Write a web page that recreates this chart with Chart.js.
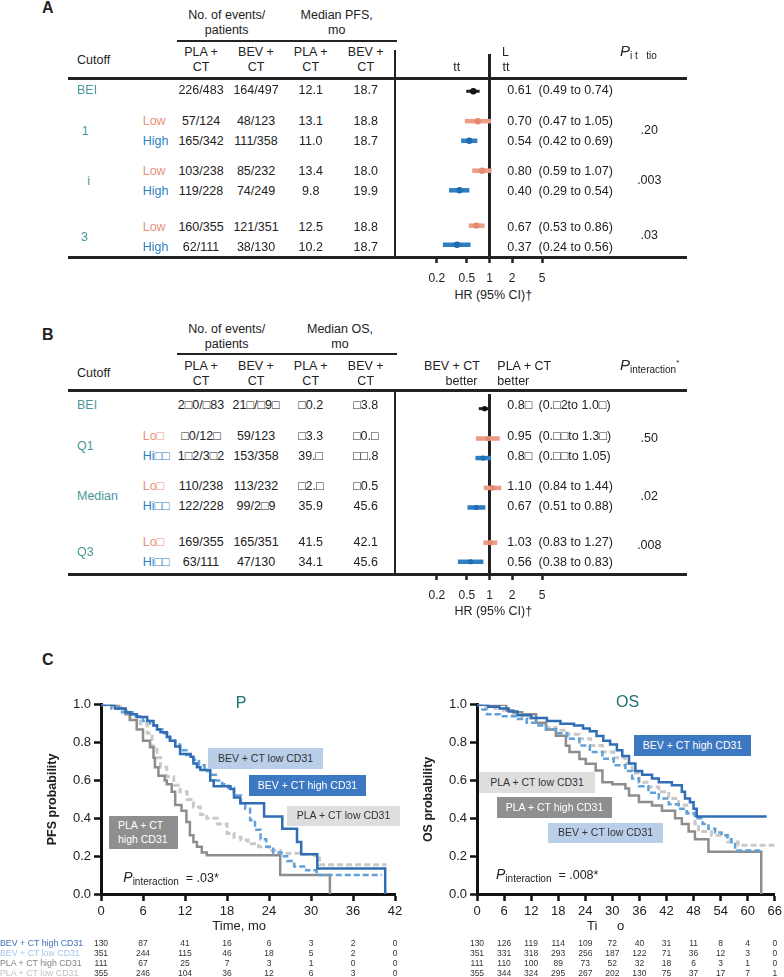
<!DOCTYPE html>
<html>
<head>
<meta charset="utf-8">
<script src="https://cdn.jsdelivr.net/npm/chart.js@4.4.1/dist/chart.umd.min.js"></script>
<style>
  html, body { margin: 0; padding: 0; background: #fff; overflow: hidden; }
  #page { position: relative; width: 784px; height: 977px; font-family: "Liberation Sans", Arial, Helvetica, sans-serif; color: #222; }
  .t { position: absolute; white-space: pre; line-height: 1; }
  .ln { position: absolute; background: #222; }
  .box { position: absolute; display: flex; align-items: center; justify-content: center; font-size: 10.5px; line-height: 1.25; white-space: pre; }
  canvas { position: absolute; }
</style>
</head>
<body>
<div id="page"></div>
<script>
// ---------- panel A : PFS by CD31 cutoff ----------
const groupsA = ['BEI', '1', 'i', '3'];
const levelsA = ['', 'Low', 'High', 'Low', 'High', 'Low', 'High'];
const pfsEventsPla = ['226/483', '57/124', '165/342', '103/238', '119/228', '160/355', '62/111'];
const pfsEventsBev = ['164/497', '48/123', '111/358', '85/232', '74/249', '121/351', '38/130'];
const pfsMedPla = ['12.1', '13.1', '11.0', '13.4', '9.8', '12.5', '10.2'];
const pfsMedBev = ['18.7', '18.8', '18.7', '18.0', '19.9', '18.8', '18.7'];
const pfsHR = [0.61, 0.70, 0.54, 0.80, 0.40, 0.67, 0.37];
const pfsLo = [0.49, 0.47, 0.42, 0.59, 0.29, 0.53, 0.24];
const pfsHi = [0.74, 1.05, 0.69, 1.07, 0.54, 0.86, 0.56];
const pfsPint = ['.20', '.003', '.03'];

// ---------- panel B : OS by CD31 cutoff ----------
const groupsB = ['BEI', 'Q1', 'Median', 'Q3'];
const levelsB = ['', 'Lo□', 'Hi□□', 'Lo□', 'Hi□□', 'Lo□', 'Hi□□'];
const osEventsPla = ['2□0/□83', '□0/12□', '1□2/3□2', '110/238', '122/228', '169/355', '63/111'];
const osEventsBev = ['21□/□9□', '59/123', '153/358', '113/232', '99/2□9', '165/351', '47/130'];
const osMedPla = ['□0.2', '□3.3', '39.□', '□2.□', '35.9', '41.5', '34.1'];
const osMedBev = ['□3.8', '□0.□', '□□.8', '□0.5', '45.6', '42.1', '45.6'];
const osHR = [0.86, 0.95, 0.82, 1.10, 0.67, 1.03, 0.56];
const osLo = [0.72, 0.66, 0.65, 0.84, 0.51, 0.83, 0.38];
const osHi = [1.02, 1.37, 1.05, 1.44, 0.88, 1.27, 0.83];
const osHRText = ['0.8□', '0.95', '0.8□', '1.10', '0.67', '1.03', '0.56'];
const osCIText = ['(0.□2to 1.0□)', '(0.□□to 1.3□)', '(0.□□to 1.05)', '(0.84 to 1.44)', '(0.51 to 0.88)', '(0.83 to 1.27)', '(0.38 to 0.83)'];
const osPint = ['.50', '.02', '.008'];

const hrTicks = [0.2, 0.5, 1, 2, 5];

// ---------- panel C : Kaplan-Meier curves (time in months, survival) ----------
const pfsBevHighT = [0, 2.0, 3.5, 4.2, 5.1, 6.6, 7.5, 8.0, 8.5, 9.4, 9.9, 10.6, 11.3, 12.8, 13.2, 13.7, 14.2, 15.6, 16.1, 18.5, 19.0, 19.9, 23.3, 25.9, 28.0, 28.6, 30.9, 40.6];
const pfsBevHighS = [1, 0.98, 0.96, 0.95, 0.935, 0.915, 0.89, 0.87, 0.855, 0.83, 0.81, 0.78, 0.74, 0.725, 0.69, 0.67, 0.655, 0.60, 0.57, 0.555, 0.51, 0.48, 0.41, 0.345, 0.275, 0.21, 0.135, 0];
const pfsBevLowT = [0, 1.5, 3.0, 4.5, 6.0, 7.0, 8.0, 8.8, 9.8, 10.6, 11.3, 12.2, 13.2, 14.0, 14.8, 15.6, 16.4, 17.3, 18.2, 19.0, 20.0, 20.6, 21.3, 22.0, 22.8, 23.6, 24.6, 25.8, 26.6, 27.6, 29.3, 30.8, 40.1];
const pfsBevLowS = [1, 0.98, 0.96, 0.94, 0.915, 0.89, 0.87, 0.85, 0.81, 0.79, 0.76, 0.735, 0.71, 0.68, 0.65, 0.63, 0.60, 0.58, 0.56, 0.52, 0.48, 0.45, 0.39, 0.34, 0.29, 0.25, 0.22, 0.20, 0.175, 0.145, 0.125, 0.10, 0.10];
const pfsPlaHighT = [0, 2.5, 3.5, 4.1, 5.1, 6.0, 7.0, 7.5, 7.7, 8.2, 9.1, 9.4, 10.1, 10.6, 11.5, 12.2, 12.7, 13.2, 13.7, 14.4, 15.1, 25.6, 32.7];
const pfsPlaHighS = [1, 0.98, 0.95, 0.92, 0.87, 0.81, 0.775, 0.72, 0.67, 0.625, 0.60, 0.58, 0.54, 0.47, 0.44, 0.38, 0.31, 0.275, 0.25, 0.22, 0.205, 0.10, 0];
const pfsPlaLowT = [0, 1.5, 2.8, 4.2, 5.6, 6.6, 7.3, 8.0, 8.5, 9.4, 10.4, 11.3, 12.3, 13.2, 14.2, 15.1, 16.6, 18.0, 19.0, 20.0, 21.0, 22.5, 24.0, 25.6, 28.5, 30.5, 31.2, 40.8];
const pfsPlaLowS = [1, 0.99, 0.97, 0.94, 0.90, 0.85, 0.78, 0.72, 0.67, 0.62, 0.575, 0.54, 0.50, 0.46, 0.42, 0.40, 0.37, 0.32, 0.30, 0.285, 0.265, 0.25, 0.23, 0.215, 0.21, 0.19, 0.155, 0.155];

const osBevHighT = [0, 2.5, 5, 7, 9, 12, 15.5, 18.5, 21.5, 23.5, 25, 26.5, 28, 29.5, 31, 32.2, 33.7, 35.1, 36.6, 38.8, 40.3, 43.2, 45.4, 46.1, 47.2, 48.0, 48.7, 64.2];
const osBevHighS = [1, 0.99, 0.98, 0.965, 0.945, 0.93, 0.915, 0.90, 0.89, 0.875, 0.86, 0.835, 0.81, 0.79, 0.76, 0.73, 0.69, 0.65, 0.63, 0.61, 0.59, 0.575, 0.54, 0.505, 0.485, 0.45, 0.41, 0.41];
const osBevLowT = [0, 1.2, 2.2, 5, 8.7, 11, 13.1, 15.3, 17.5, 20, 22.7, 25, 27.8, 30.3, 32.9, 34.4, 35.9, 38, 40.3, 42.5, 44.7, 46.5, 48.3, 50, 51.3, 52.8, 54.2, 55.5, 56.4, 57.2, 63];
const osBevLowS = [1, 0.975, 0.95, 0.94, 0.925, 0.905, 0.89, 0.87, 0.85, 0.82, 0.785, 0.75, 0.715, 0.68, 0.65, 0.61, 0.57, 0.535, 0.505, 0.475, 0.45, 0.425, 0.40, 0.37, 0.345, 0.325, 0.31, 0.29, 0.275, 0.23, 0.23];
const osPlaHighT = [0, 6.5, 8, 10, 13.1, 15.3, 17.5, 19.7, 20.5, 22.7, 24.1, 26.3, 27.8, 30, 32.9, 33.7, 35.9, 38.8, 41, 43.9, 45.4, 46.9, 48.3, 51.3, 63];
const osPlaHighS = [1, 0.97, 0.96, 0.95, 0.905, 0.87, 0.837, 0.784, 0.75, 0.714, 0.688, 0.653, 0.59, 0.58, 0.557, 0.52, 0.486, 0.468, 0.44, 0.40, 0.37, 0.33, 0.29, 0.223, 0];
const osPlaLowT = [0, 2, 4, 5.9, 8, 10, 13.1, 15.5, 17.5, 20, 22.7, 25.2, 27.8, 30.3, 32.9, 34.4, 35.9, 38, 40.3, 42.5, 44.7, 46.5, 48.3, 49.1, 52, 55.6, 57.9, 66];
const osPlaLowS = [1, 0.99, 0.98, 0.97, 0.95, 0.93, 0.90, 0.88, 0.865, 0.845, 0.82, 0.785, 0.75, 0.72, 0.69, 0.64, 0.59, 0.565, 0.54, 0.505, 0.47, 0.43, 0.37, 0.33, 0.31, 0.275, 0.258, 0.258];

// numbers at risk
const riskLabels = ['BEV + CT high CD31', 'BEV + CT low CD31', 'PLA + CT high CD31', 'PLA + CT low CD31'];
const pfsRiskTimes = [0, 6, 12, 18, 24, 30, 36, 42];
const pfsRiskBevHigh = [130, 87, 41, 16, 6, 3, 2, 0];
const pfsRiskBevLow = [351, 244, 115, 46, 18, 5, 2, 0];
const pfsRiskPlaHigh = [111, 67, 25, 7, 3, 1, 0, 0];
const pfsRiskPlaLow = [355, 246, 104, 36, 12, 6, 3, 0];
const osRiskTimes = [0, 6, 12, 18, 24, 30, 36, 42, 48, 54, 60, 66];
const osRiskBevHigh = [130, 126, 119, 114, 109, 72, 40, 31, 11, 8, 4, 0];
const osRiskBevLow = [351, 331, 318, 293, 256, 187, 122, 71, 36, 12, 3, 0];
const osRiskPlaHigh = [111, 110, 100, 89, 73, 52, 32, 18, 6, 3, 1, 0];
const osRiskPlaLow = [355, 344, 324, 295, 267, 202, 130, 75, 37, 17, 7, 1];

// ---------- styles / layout ----------
const FONT = '"Liberation Sans", Arial, Helvetica, sans-serif';
Chart.defaults.font.family = FONT;
Chart.defaults.color = '#222';

const LOW_C = '#e8937c', HIGH_C = '#2f7fc3', TEAL = '#4a9898', TITLE_TEAL = '#1f726e';
const BAR_COLORS = ['#222222', '#ec9c85', '#2f7dc2', '#ec9c85', '#2f7dc2', '#ec9c85', '#2f7dc2'];
const DOT_COLORS = ['#111111', '#e38a70', '#1f6cb3', '#e38a70', '#1f6cb3', '#e38a70', '#1f6cb3'];
const ROW_OFF = [0, 30.5, 50.5, 81, 101, 137, 156.5];
const COL_X = [201, 256, 310.7, 365.7];
const RISK_Y = [943.3, 953.3, 963.3, 973.3];
const RISK_COLORS = ['#3e70b6', '#a3c6ea', '#838383', '#c2c2c2'];
const KM = {
  bevHigh: { color: '#2f6db5', width: 2.5, dash: [] },
  bevLow: { color: '#62a0da', width: 2.5, dash: [6, 3] },
  plaHigh: { color: '#8d8d8d', width: 2.5, dash: [] },
  plaLow: { color: '#c9c9c9', width: 3, dash: [6, 3] }
};

const page = document.getElementById('page');

function txt(x, y, s, o) {
  o = o || {};
  const el = document.createElement('div');
  el.className = 't';
  if (o.html) el.innerHTML = s; else el.textContent = s;
  el.style.left = x + 'px';
  el.style.top = y + 'px';
  el.style.fontSize = (o.size || 12.5) + 'px';
  if (o.color) el.style.color = o.color;
  if (o.bold) el.style.fontWeight = 'bold';
  const a = o.align || 'c';
  el.style.transform = a === 'c' ? 'translate(-50%,-50%)' : a === 'l' ? 'translate(0,-50%)' : 'translate(-100%,-50%)';
  page.appendChild(el);
  return el;
}
function hline(x1, y, x2, h) {
  const d = document.createElement('div');
  d.className = 'ln';
  d.style.left = x1 + 'px'; d.style.top = (y - h / 2) + 'px';
  d.style.width = (x2 - x1) + 'px'; d.style.height = h + 'px';
  page.appendChild(d);
}
function vline(x, y1, y2, w) {
  const d = document.createElement('div');
  d.className = 'ln';
  d.style.left = (x - w / 2) + 'px'; d.style.top = y1 + 'px';
  d.style.width = w + 'px'; d.style.height = (y2 - y1) + 'px';
  page.appendChild(d);
}
function box(x, y, w, h, s, bg, color, align) {
  const d = document.createElement('div');
  d.className = 'box';
  d.style.left = x + 'px'; d.style.top = y + 'px';
  d.style.width = w + 'px'; d.style.height = h + 'px';
  d.style.background = bg; d.style.color = color;
  if (align === 'l') { d.style.justifyContent = 'flex-start'; d.style.paddingLeft = '9px'; d.style.boxSizing = 'border-box'; }
  d.textContent = s;
  page.appendChild(d);
}
function makeCanvas(left, top, w, h) {
  const c = document.createElement('canvas');
  c.width = w; c.height = h;
  c.style.left = left + 'px'; c.style.top = top + 'px';
  c.style.width = w + 'px'; c.style.height = h + 'px';
  page.appendChild(c);
  return c;
}

// ---------- forest panels ----------
function forestPanel(p) {
  const cv = makeCanvas(396, p.chartTop, 291, p.bottom - p.chartTop + 30);
  const datasets = p.hr.map((v, i) => ({
    data: [{ x: p.lo[i], y: ROW_OFF[i] }, { x: p.hi[i], y: ROW_OFF[i] }],
    showLine: true, borderColor: BAR_COLORS[i], borderWidth: i === 0 ? 3 : 4.5,
    pointRadius: 0
  }));
  datasets.unshift({
    data: p.hr.map((v, i) => ({ x: v, y: ROW_OFF[i] })),
    pointRadius: p.dot, pointBackgroundColor: DOT_COLORS, pointBorderWidth: 0
  });
  new Chart(cv, {
    type: 'scatter',
    data: { datasets: datasets },
    options: {
      responsive: false, animation: false, events: [],
      layout: { padding: 0 },
      plugins: { legend: { display: false }, tooltip: { enabled: false } },
      scales: {
        x: {
          type: 'logarithmic', min: 0.06454, max: 375.3, bounds: 'data',
          afterBuildTicks: ax => { ax.ticks = hrTicks.map(v => ({ value: v })); },
          afterFit: ax => { ax.height = 30; },
          border: { display: false },
          grid: {
            drawOnChartArea: true, drawTicks: true,
            color: c => (c.tick && c.tick.value === 1) ? '#222' : 'rgba(0,0,0,0)',
            lineWidth: 3, tickLength: 6, tickWidth: 2.5, tickColor: '#222'
          },
          ticks: { autoSkip: false, maxRotation: 0, padding: 8, color: '#222', font: { size: 12 }, callback: v => String(v) }
        },
        y: { type: 'linear', display: false, reverse: true, min: p.chartTop - p.bar0, max: p.bottom - p.bar0 }
      }
    }
  });

  txt(42, p.letterY, p.letter, { align: 'l', size: 16, bold: true });
  txt(226.7, p.headY, 'No. of events/');
  txt(226.7, p.headY + 14.7, 'patients');
  txt(p.medX, p.headY, p.medTitle);
  txt(p.medX, p.headY + 14.7, 'mo');
  hline(177, p.ulY, 397, 2);
  ['PLA +', 'BEV +', 'PLA +', 'BEV +'].forEach((s, i) => {
    txt(COL_X[i], p.colY, s);
    txt(COL_X[i], p.colY + 14.7, 'CT');
  });
  txt(77, p.colY + 7.4, 'Cutoff', { align: 'l' });
  hline(68, p.topLineY, 687, 3);
  hline(68, p.bottom, 687, 3);
  vline(395, p.chartTop, p.bottom + 1.5, 2.5);

  for (let i = 0; i < 7; i++) {
    const y = p.row0 + ROW_OFF[i];
    if (i > 0) txt(142.7, y, p.levels[i], { align: 'l', color: i % 2 ? LOW_C : HIGH_C });
    txt(COL_X[0], y, p.evPla[i]);
    txt(COL_X[1], y, p.evBev[i]);
    txt(COL_X[2], y, p.medPla[i]);
    txt(COL_X[3], y, p.medBev[i]);
    txt(507.3, y, p.hrText[i], { align: 'l' });
    txt(538.5, y, p.ciText[i], { align: 'l' });
  }
  txt(p.groupX[0], p.row0, p.groups[0], { align: 'l', color: TEAL });
  for (let g = 1; g < 4; g++) {
    const y = p.row0 + (ROW_OFF[2 * g - 1] + ROW_OFF[2 * g]) / 2;
    txt(p.groupX[g], y, p.groups[g], { align: 'l', color: TEAL });
    txt(649.3, p.pY[g - 1], p.pVals[g - 1]);
  }
  txt(493.3, p.hrTitleY, 'HR (95% CI)†');
}

forestPanel({
  letter: 'A', letterY: 8, headY: 15, medTitle: 'Median PFS,', medX: 336.7, ulY: 40.7, colY: 52.3,
  topLineY: 78, row0: 90, bar0: 88, chartTop: 50, bottom: 257, hrTitleY: 295,
  groups: groupsA, groupX: [77, 81.7, 87.3, 81], levels: levelsA,
  evPla: pfsEventsPla, evBev: pfsEventsBev, medPla: pfsMedPla, medBev: pfsMedBev,
  hr: pfsHR, lo: pfsLo, hi: pfsHi, dot: 3.2,
  hrText: pfsHR.map(v => v.toFixed(2)),
  ciText: pfsLo.map((v, i) => '(' + v.toFixed(2) + ' to ' + pfsHi[i].toFixed(2) + ')'),
  pVals: pfsPint, pY: [129.5, 179.5, 235]
});
txt(502, 51.7, 'L', { align: 'l' });
txt(456.7, 66.7, 'tt');
txt(502.5, 66.7, 'tt', { align: 'l' });
txt(620, 52, '<i style="font-size:15px">P</i><span style="font-size:10px;vertical-align:-3px">i t   tio</span>', { align: 'l', html: true });

forestPanel({
  letter: 'B', letterY: 335, headY: 329.3, medTitle: 'Median OS,', medX: 340, ulY: 354, colY: 366,
  topLineY: 390, row0: 405, bar0: 405, chartTop: 390, bottom: 574, hrTitleY: 611,
  groups: groupsB, groupX: [77, 77, 77, 77], levels: levelsB,
  evPla: osEventsPla, evBev: osEventsBev, medPla: osMedPla, medBev: osMedBev,
  hr: osHR, lo: osLo, hi: osHi, dot: 2.6,
  hrText: osHRText, ciText: osCIText,
  pVals: osPint, pY: [438, 496, 545]
});
txt(480, 366, 'BEV + CT', { align: 'r' });
txt(477.5, 380.7, 'better', { align: 'r' });
txt(497.3, 366, 'PLA + CT', { align: 'l' });
txt(497.3, 380.7, 'better', { align: 'l' });
txt(620, 366, '<i style="font-size:15px">P</i><span style="font-size:10px;vertical-align:-3px">interaction</span><span style="font-size:8px;vertical-align:5px">*</span>', { align: 'l', html: true });

// ---------- KM panels ----------
function kmPanel(k) {
  const cv = makeCanvas(k.left, 694, k.width, 245);
  const chart = new Chart(cv, {
    type: 'line',
    data: {
      datasets: k.curves.map(c => ({
        data: c.t.map((t, i) => ({ x: t, y: c.s[i] })),
        borderColor: c.style.color, borderWidth: c.style.width, borderDash: c.style.dash,
        stepped: true, pointRadius: 0, fill: false
      }))
    },
    options: {
      responsive: false, animation: false, events: [],
      layout: { padding: { top: 10, right: k.padRight, bottom: 0, left: 0 } },
      plugins: { legend: { display: false }, tooltip: { enabled: false } },
      scales: {
        x: {
          type: 'linear', min: 0, max: k.xMax,
          afterFit: ax => { ax.height = 45; },
          border: { display: true, width: 3, color: '#111' },
          grid: { drawOnChartArea: false, drawTicks: true, tickLength: 7, tickWidth: 2.5, tickColor: '#111' },
          ticks: { stepSize: 6, autoSkip: false, maxRotation: 0, padding: 3, color: '#222', font: { size: 13 } }
        },
        y: {
          min: 0, max: 1,
          afterFit: ax => { ax.width = 60; },
          border: { display: true, width: 3, color: '#111' },
          grid: { drawOnChartArea: false, drawTicks: true, tickLength: 7, tickWidth: 2.5, tickColor: '#111' },
          ticks: { stepSize: 0.2, padding: 3, color: '#222', font: { size: 13 }, callback: v => v.toFixed(1) },
          title: { display: true, text: k.yTitle, color: '#222', font: { size: 12.5, weight: 'bold' }, padding: { top: 4, bottom: 0 } }
        }
      }
    }
  });
  const xs = k.riskTimes.map(t => k.left + chart.scales.x.getPixelForValue(t));
  k.risk.forEach((row, r) => row.forEach((n, j) => txt(xs[j], RISK_Y[r], String(n), { size: 8.5, color: '#333' })));
}

kmPanel({
  left: 41, width: 366, padRight: 12, xMax: 42, yTitle: 'PFS probability',
  curves: [
    { t: pfsBevHighT, s: pfsBevHighS, style: KM.bevHigh },
    { t: pfsBevLowT, s: pfsBevLowS, style: KM.bevLow },
    { t: pfsPlaHighT, s: pfsPlaHighS, style: KM.plaHigh },
    { t: pfsPlaLowT, s: pfsPlaLowS, style: KM.plaLow }
  ],
  riskTimes: pfsRiskTimes,
  risk: [pfsRiskBevHigh, pfsRiskBevLow, pfsRiskPlaHigh, pfsRiskPlaLow]
});
kmPanel({
  left: 417, width: 368, padRight: 8, xMax: 66, yTitle: 'OS probability',
  curves: [
    { t: osBevHighT, s: osBevHighS, style: KM.bevHigh },
    { t: osBevLowT, s: osBevLowS, style: KM.bevLow },
    { t: osPlaHighT, s: osPlaHighS, style: KM.plaHigh },
    { t: osPlaLowT, s: osPlaLowS, style: KM.plaLow }
  ],
  riskTimes: osRiskTimes,
  risk: [osRiskBevHigh, osRiskBevLow, osRiskPlaHigh, osRiskPlaLow]
});

riskLabels.forEach((s, i) => txt(0, RISK_Y[i], s, { align: 'l', size: 8.8, color: RISK_COLORS[i] }));

txt(42, 660, 'C', { align: 'l', size: 16, bold: true });
txt(241, 702.5, 'P', { size: 16, color: TITLE_TEAL });
txt(627.5, 702, 'OS', { size: 16, color: TITLE_TEAL });
txt(239.2, 925, 'Time, mo', { size: 13 });
txt(587, 925, 'Ti', { align: 'l', size: 13 });
txt(617, 925, 'o', { align: 'l', size: 13 });

// in-plot labels (PFS)
box(208, 748, 115, 21, 'BEV + CT low CD31', '#b9cee9', '#333');
box(249, 775, 117, 21, 'BEV + CT high CD31', '#3d78c2', '#fff');
box(287, 806, 113, 20, 'PLA + CT low CD31', '#dedede', '#333');
box(109, 816, 69, 33, 'PLA + CT\nhigh CD31', '#8f8f8f', '#fff', 'l');
txt(123.3, 878, '<i style="font-size:14px">P</i><span style="font-size:10px;vertical-align:-3px">interaction</span>  = .03*', { align: 'l', html: true });

// in-plot labels (OS)
box(634, 735, 117, 21, 'BEV + CT high CD31', '#3d78c2', '#fff');
box(479, 772, 116, 21, 'PLA + CT low CD31', '#dedede', '#333');
box(497, 797, 115, 21, 'PLA + CT high CD31', '#8f8f8f', '#fff');
box(548, 823, 115, 20, 'BEV + CT low CD31', '#b9cee9', '#333');
txt(496, 875, '<i style="font-size:14px">P</i><span style="font-size:10px;vertical-align:-3px">interaction</span>  = .008*', { align: 'l', html: true });
</script>
</body>
</html>
